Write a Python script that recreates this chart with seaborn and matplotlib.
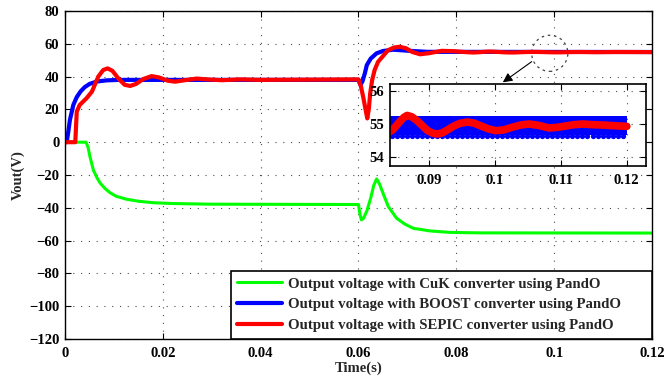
import matplotlib
matplotlib.use("Agg")
import matplotlib.pyplot as plt
from matplotlib.patches import Ellipse
import seaborn as sns

# ---- data (time in s, voltage in V) ----
cuk_t = [0, 0.0043, 0.0047, 0.0051, 0.0058, 0.0065, 0.0072, 0.0082, 0.0092, 0.0105, 0.0126,
         0.015, 0.018, 0.022, 0.03, 0.06, 0.0603, 0.0606, 0.061, 0.0617, 0.0625, 0.0631,
         0.0637, 0.0643, 0.065, 0.0661, 0.0678, 0.0695, 0.0712, 0.0746, 0.0787, 0.085, 0.12]
cuk_v = [0, 0, -3, -8.8, -17, -21.5, -25, -28.3, -30.8, -33, -34.8,
         -36, -36.9, -37.4, -37.8, -38, -44, -47.4, -46.5, -42, -34, -26.5,
         -22.4, -25.5, -31, -39.3, -46.4, -50, -52.5, -54.1, -55, -55.3, -55.4]

boost_t = [0, 0.00035, 0.0007, 0.001, 0.0017, 0.0024, 0.0032, 0.004, 0.005, 0.0065, 0.0085,
           0.011, 0.06, 0.0604, 0.0608, 0.0613, 0.0617, 0.0625, 0.0637, 0.065, 0.0671, 0.07,
           0.074, 0.12]
boost_v = [0, 0, 7, 13.5, 22.7, 27.5, 31, 33.5, 35.5, 37, 37.7,
           38, 38, 35, 37, 42, 47, 51, 54.2, 55.6, 56.4, 55.8,
           55.1, 55]

sepic_t = [0, 0.0021, 0.0024, 0.003, 0.0044, 0.0055, 0.0068, 0.0078, 0.0087, 0.0097,
           0.011, 0.0122, 0.0133, 0.0145, 0.016, 0.0177, 0.0192, 0.021, 0.0225, 0.0245,
           0.0269, 0.029, 0.032, 0.036, 0.04, 0.06, 0.0605, 0.061, 0.0615, 0.0618,
           0.0621, 0.0624, 0.0628, 0.0633, 0.064, 0.065, 0.066, 0.0672, 0.0684, 0.0697,
           0.071, 0.0726, 0.0745, 0.077, 0.0795, 0.082, 0.0835, 0.0845, 0.0855, 0.0862,
           0.0867, 0.0874, 0.0882, 0.089, 0.0898, 0.0906, 0.0913, 0.092, 0.0928, 0.0937,
           0.0947, 0.0958, 0.0968, 0.0978, 0.0989, 0.1001, 0.1013, 0.1026, 0.1039, 0.1052,
           0.1066, 0.1082, 0.1095, 0.1107, 0.112, 0.1133, 0.1148, 0.1163, 0.118, 0.12]
sepic_v = [0, 0, 18.6, 22.7, 26.8, 30.8, 40, 44, 45, 43.5,
           38.5, 35, 34.3, 35.5, 38.5, 40.3, 39.5, 37.5, 36.9, 37.8,
           38.8, 38.3, 37.8, 38.3, 38, 38.3, 34, 27, 19, 14.5,
           20, 30, 38, 44, 49, 52.5, 56, 57.7, 58.2, 57.3,
           55, 53.6, 54.3, 55.7, 55.5, 54.9, 54.7, 54.82, 55.05, 55.2,
           55.26, 55.22, 55.1, 54.95, 54.8, 54.72, 54.7, 54.73, 54.82, 54.93,
           55.02, 55.06, 55.03, 54.95, 54.86, 54.8, 54.82, 54.9, 54.97, 55.0,
           54.96, 54.88, 54.9, 54.94, 54.98, 55.0, 54.98, 54.97, 54.95, 54.93]

# boost switching ripple seen in the zoom window
boost_ripple_span = [0.083, 0.12]
boost_ripple_hi = 55.25
boost_ripple_lo = 54.68
boost_trough_v = 54.63
boost_trough_t = [0.08440, 0.08516, 0.08592, 0.08668, 0.08744, 0.08820, 0.08896, 0.08972,
                  0.09048, 0.09124, 0.09200, 0.09276, 0.09352, 0.09428, 0.09504, 0.09580,
                  0.09656, 0.09732, 0.09808, 0.09884, 0.09960, 0.10036, 0.10112, 0.10188,
                  0.10264, 0.10340, 0.10416, 0.10492, 0.10568, 0.10644, 0.10720, 0.10796,
                  0.10872, 0.10948, 0.11024, 0.11100, 0.11176, 0.11252, 0.11328, 0.11404,
                  0.11480, 0.11556, 0.11632, 0.11708, 0.11784, 0.11860, 0.11936]

labels = ['Output voltage with CuK converter using PandO',
          'Output voltage with BOOST converter using PandO',
          'Output voltage with SEPIC converter using PandO']

xticks = [0, 0.02, 0.04, 0.06, 0.08, 0.1, 0.12]
xtick_labels = ['0', '0.02', '0.04', '0.06', '0.08', '0.1', '0.12']
yticks = [-120, -100, -80, -60, -40, -20, 0, 20, 40, 60, 80]
in_xticks = [0.09, 0.1, 0.11, 0.12]
in_xtick_labels = ['0.09', '0.1', '0.11', '0.12']
in_yticks = [54, 55, 56]

sns.set_style('ticks')
plt.rcParams['font.family'] = ['Liberation Serif', 'DejaVu Serif']
plt.rcParams['font.weight'] = 'bold'
plt.rcParams['axes.edgecolor'] = 'black'
plt.rcParams['xtick.color'] = 'black'
plt.rcParams['ytick.color'] = 'black'

grid_style = dict(linestyle=(0, (1, 6)), color='0.3', lw=0.8)

fig = plt.figure(figsize=(6.64, 3.82), dpi=100)
ax = fig.add_axes([0.0979, 0.1126, 0.884, 0.8586])

sns.lineplot(x=cuk_t, y=cuk_v, ax=ax, color='#00ff00', lw=2.2, sort=False, estimator=None, label=labels[0])
sns.lineplot(x=boost_t, y=boost_v, ax=ax, color='#0000ff', lw=3, sort=False, estimator=None, label=labels[1])
sns.lineplot(x=sepic_t, y=sepic_v, ax=ax, color='#ff0000', lw=3, sort=False, estimator=None, label=labels[2])

ax.set_xlim(0, 0.12)
ax.set_ylim(-120, 80)
ax.set_xticks(xticks)
ax.set_xticklabels(xtick_labels)
ax.set_yticks(yticks)
ax.tick_params(direction='in', top=True, right=True, length=4, width=0.8, labelsize=10.5, pad=4)
ax.tick_params(axis='x', pad=6)
for lab in ax.get_xticklabels() + ax.get_yticklabels():
    lab.set_fontweight('bold')
ax.grid(True, **grid_style)
ax.set_axisbelow(True)
for sp in ax.spines.values():
    sp.set_linewidth(1.0)
ax.set_xlabel('Time(s)', fontsize=10.5, fontweight='bold', labelpad=1)
ax.set_ylabel('Vout(V)', fontsize=10.5, fontweight='bold', labelpad=3)

leg = ax.legend(loc='lower left', bbox_to_anchor=(0.2823, 0, 0.7177, 0.2), mode='expand',
                borderaxespad=0, fancybox=False, framealpha=1, edgecolor='black',
                handlelength=3, handletextpad=0.4, labelspacing=0.5, borderpad=0.45,
                prop={'family': 'Liberation Serif', 'weight': 'bold', 'size': 10.7})
leg.get_frame().set_linewidth(1.2)

# dotted circle and arrow pointing to the zoom window
ax.add_patch(Ellipse((0.0991, 54.2), 0.0074, 22, fill=False, ls=(0, (2, 3)), lw=0.9, ec='0.25'))
ax.annotate('', xy=(0.0895, 36.5), xytext=(0.0954, 49.1),
            arrowprops=dict(arrowstyle='-|>', color='k', lw=0.8, mutation_scale=14,
                            shrinkA=0, shrinkB=0))

# zoom window
axin = fig.add_axes([0.5873, 0.5654, 0.3855, 0.2147])
axin.set_facecolor('white')
axin.fill_between(boost_ripple_span, boost_ripple_lo, boost_ripple_hi, color='#0000ff', lw=0)
axin.plot(boost_trough_t, [boost_trough_v] * len(boost_trough_t), 'o', color='#0000ff', ms=3.8, mew=0)
sns.lineplot(x=sepic_t, y=sepic_v, ax=axin, color='#ff0000', lw=5.5, sort=False, estimator=None, legend=False)
axin.set_xlim(0.0841, 0.1229)
axin.set_ylim(53.73, 56.21)
axin.set_xticks(in_xticks)
axin.set_xticklabels(in_xtick_labels)
axin.set_yticks(in_yticks)
axin.tick_params(direction='in', top=True, right=True, length=4, width=0.8, labelsize=10.5, pad=4)
axin.tick_params(axis='x', pad=6)
for lab in axin.get_xticklabels() + axin.get_yticklabels():
    lab.set_fontweight('bold')
axin.grid(True, **grid_style)
axin.set_axisbelow(True)
for sp in axin.spines.values():
    sp.set_linewidth(1.2)

fig.savefig('out.png', dpi=100)
